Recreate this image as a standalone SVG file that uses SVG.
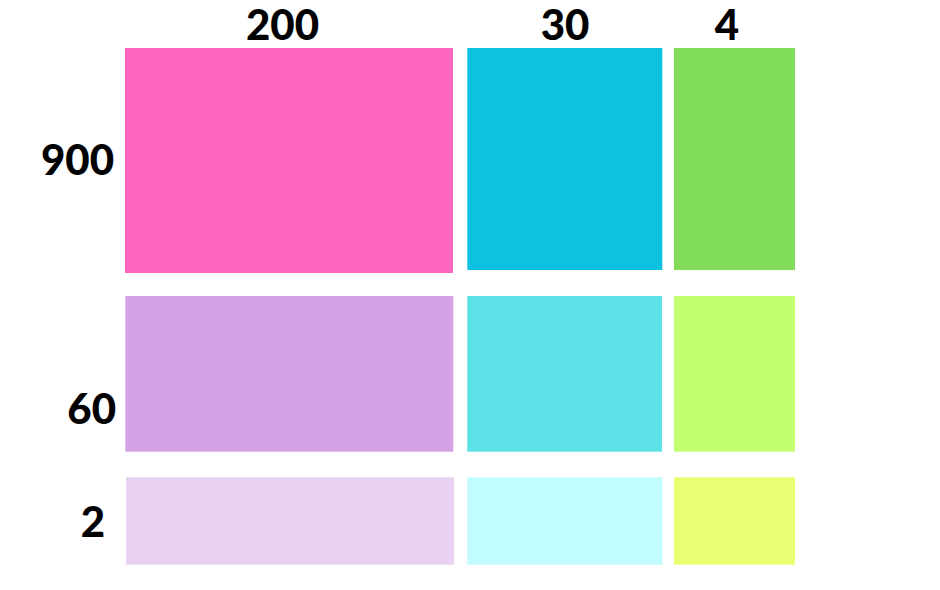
<svg xmlns="http://www.w3.org/2000/svg" width="940" height="590" viewBox="0 0 940 590">
<style>
.lbl{font-family:"Lato","Liberation Sans",sans-serif;font-weight:900;font-size:42px;fill:#000}
.c{text-anchor:middle}
.r{text-anchor:end}
</style>
<rect width="940" height="590" fill="#fff"/>
<g id="labels">
<text class="lbl c" x="282.5" y="40">200</text>
<text class="lbl c" x="565" y="40">30</text>
<text class="lbl c" x="727" y="40">4</text>
<text class="lbl r" x="114" y="175">900</text>
<text class="lbl r" x="116" y="424">60</text>
<text class="lbl r" x="105" y="537">2</text>
</g>
<g id="cell-900-200"><rect x="125" y="48" width="328" height="225" fill="#FF66C2"/></g>
<g id="cell-900-30"><rect x="467.3" y="48" width="195" height="222" fill="#0CC2E0"/></g>
<g id="cell-900-4"><rect x="674" y="48" width="121" height="222" fill="#80DC5A"/></g>
<g id="cell-60-200"><rect x="125.3" y="296" width="328" height="155.7" fill="#D4A2E4"/></g>
<g id="cell-60-30"><rect x="467.3" y="296" width="194.7" height="155.7" fill="#5CE1E6"/></g>
<g id="cell-60-4"><rect x="674" y="296" width="121" height="155.7" fill="#C2FF71"/></g>
<g id="cell-2-200"><rect x="126" y="477.3" width="328" height="87.4" fill="#E9D2F1"/></g>
<g id="cell-2-30"><rect x="467.3" y="477.3" width="195" height="87.4" fill="#C1FCFF"/></g>
<g id="cell-2-4"><rect x="674" y="477.3" width="121" height="87.4" fill="#EAFF71"/></g>
<g id="connectors"/>
</svg>
